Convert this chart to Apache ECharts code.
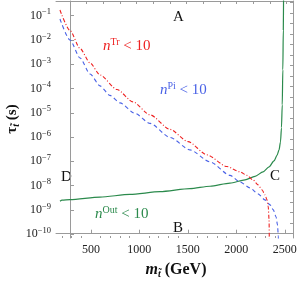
<!DOCTYPE html>
<html><head><meta charset="utf-8">
<script src="https://cdn.jsdelivr.net/npm/echarts@6/dist/echarts.min.js"></script>
<style>html,body{margin:0;padding:0;background:#fff}#c{width:300px;height:284px}</style>
</head><body><div id="c"></div>
<script>
// n^Tr < 10 (red, dash-dot)
const redMass = [181, 284, 388, 491, 594, 769, 934, 1110, 1316, 1502, 1698, 1904, 2038, 2110, 2172, 2224, 2265, 2296, 2317, 2330, 2338, 2342];
const redTau  = [0.171, 0.0246, 4.46e-3, 1.13e-3, 3.61e-4, 9.14e-5, 2.8e-5, 8.2e-6, 2.07e-6, 6.5e-7, 1.84e-7, 6.07e-8, 3.67e-8, 2.64e-8, 1.72e-8, 1.07e-8, 6.7e-9, 4.15e-9, 2.58e-9, 1.33e-9, 3.9e-10, 1e-11];
// n^Pi < 10 (blue, dashed)
const blueMass = [181, 284, 388, 491, 594, 697, 800, 955, 1110, 1316, 1522, 1729, 1935, 2038, 2141, 2224, 2296, 2348, 2382, 2410, 2425, 2434, 2436];
const blueTau  = [0.0731, 9.98e-3, 1.81e-3, 3.98e-4, 1.28e-4, 5.19e-5, 2.55e-5, 9.4e-6, 3.65e-6, 9.67e-7, 2.96e-7, 9.5e-8, 2.64e-8, 1.42e-8, 8.05e-9, 4.56e-9, 2.58e-9, 1.61e-9, 1.0e-9, 5.15e-10, 2.41e-10, 7.8e-11, 1e-11];
// n^Out < 10 (green, solid)
const greenMass = [181, 202, 284, 594, 903, 1213, 1522, 1729, 1935, 2090, 2193, 2276, 2338, 2389, 2420, 2441, 2456, 2466, 2474, 2480, 2485, 2488];
const greenTau  = [2.24e-9, 2.51e-9, 2.64e-9, 3.34e-9, 4.32e-9, 5.62e-9, 7.47e-9, 9.37e-9, 1.26e-8, 1.72e-8, 2.4e-8, 3.67e-8, 5.9e-8, 1.04e-7, 1.75e-7, 2.96e-7, 6.3e-7, 2.41e-6, 2.1e-5, 5.8e-4, 0.0258, 1.15];

const xTickLabels = [500, 1000, 1500, 2000, 2500];
const xMinorTicks = [200,300,400,600,700,800,900,1100,1200,1300,1400,1600,1700,1800,1900,2100,2200,2300,2400];
const yTickLabels = [1e-10, 1e-9, 1e-8, 1e-7, 1e-6, 1e-5, 1e-4, 1e-3, 1e-2, 1e-1];
const topTicks = [0,1,2,3,4,5,6,7,8,9,10,11,12,13];
const rightTicks = [0,1,2,3,4,5,6,7,8,9,10,11,12,13,14,15,16,17,18,19,20,21,22];

const SERIF = 'Liberation Serif';
const FRAME = '#9a9a9a';
const gridRect = {left: 56, right: 7, top: 1, bottom: 46};

const zip = (a, b) => a.map((v, i) => [v, b[i]]);

const chart = echarts.init(document.getElementById('c'), null, {renderer: 'canvas'});
const option = {
  animation: false,
  backgroundColor: '#fff',
  grid: [Object.assign({}, gridRect), Object.assign({}, gridRect)],
  xAxis: [
    {
      gridIndex: 0, type: 'value', position: 'bottom', min: 140, max: 2585,
      axisLine: {show: true, lineStyle: {color: FRAME, width: 1}},
      axisTick: {show: true, inside: true, length: 4, customValues: xTickLabels, lineStyle: {color: FRAME}},
      axisLabel: {customValues: xTickLabels, formatter: v => String(v), fontFamily: SERIF, fontSize: 12, color: '#222', margin: 6},
      splitLine: {show: false}
    },
    {
      gridIndex: 0, type: 'value', position: 'top', min: -0.84, max: 13.38,
      axisLine: {show: true, lineStyle: {color: FRAME, width: 1}},
      axisTick: {show: true, inside: true, length: 3, customValues: topTicks, lineStyle: {color: FRAME}},
      axisLabel: {show: false}, splitLine: {show: false}
    },
    {
      gridIndex: 1, type: 'value', position: 'bottom', min: 140, max: 2585,
      axisLine: {show: false},
      axisTick: {show: true, inside: true, length: 2, customValues: xMinorTicks, lineStyle: {color: FRAME}},
      axisLabel: {show: false}, splitLine: {show: false}
    }
  ],
  yAxis: [
    {
      gridIndex: 0, type: 'log', position: 'left', logBase: 10,
      min: Math.pow(10, -10.16), max: Math.pow(10, -0.395),
      axisLine: {show: true, lineStyle: {color: FRAME, width: 1}},
      axisTick: {show: true, inside: true, length: 4, customValues: yTickLabels, lineStyle: {color: FRAME}},
      axisLabel: {
        customValues: yTickLabels, margin: 5,
        formatter: v => '{b|10}{s|\u2212' + Math.abs(Math.round(Math.log10(v))) + '}',
        rich: {
          b: {fontFamily: SERIF, fontSize: 12, color: '#222', lineHeight: 16},
          s: {fontFamily: SERIF, fontSize: 8.5, color: '#222', lineHeight: 10, verticalAlign: 'top'}
        }
      },
      splitLine: {show: false}, minorTick: {show: false}
    },
    {
      gridIndex: 0, type: 'value', position: 'right', min: -0.41, max: 22.16,
      axisLine: {show: true, lineStyle: {color: FRAME, width: 1}},
      axisTick: {show: true, inside: true, length: 3, customValues: rightTicks, lineStyle: {color: FRAME}},
      axisLabel: {show: false}, splitLine: {show: false}
    },
    {
      gridIndex: 1, type: 'log', position: 'left', min: Math.pow(10, -10.16), max: Math.pow(10, -0.395),
      axisLine: {show: false}, axisTick: {show: false}, axisLabel: {show: false}, splitLine: {show: false}
    }
  ],
  series: [
    {
      type: 'line', xAxisIndex: 0, yAxisIndex: 0, data: zip(greenMass, greenTau), smooth: 0.25, smoothMonotone: 'x',
      showSymbol: false, clip: true, lineStyle: {color: '#2b8a4c', width: 1.2}
    },
    {
      type: 'line', xAxisIndex: 0, yAxisIndex: 0, data: zip(blueMass, blueTau), smooth: 0.25, smoothMonotone: 'x',
      showSymbol: false, clip: true, lineStyle: {color: '#4a62e6', width: 1.1, type: [4, 3]}
    },
    {
      type: 'line', xAxisIndex: 0, yAxisIndex: 0, data: zip(redMass, redTau), smooth: 0.25, smoothMonotone: 'x',
      showSymbol: false, clip: true, lineStyle: {color: '#ee2222', width: 1.1, type: [4, 2, 1, 2]}
    }
  ],
  graphic: [
    {type: 'text', left: 173, top: 10, style: {text: 'A', font: '15px "Liberation Serif"', fill: '#111'}},
    {type: 'text', left: 173, top: 221, style: {text: 'B', font: '15px "Liberation Serif"', fill: '#111'}},
    {type: 'text', left: 270, top: 169, style: {text: 'C', font: '15px "Liberation Serif"', fill: '#111'}},
    {type: 'text', left: 61, top: 170, style: {text: 'D', font: '15px "Liberation Serif"', fill: '#111'}},
    {type: 'text', x: 103, y: 46, style: {
      text: '{i|n}{s|Tr}{r| < 10}', verticalAlign: 'middle', fill: '#ee2222',
      rich: {i: {fontFamily: SERIF, fontStyle: 'italic', fontSize: 15, lineHeight: 18, fill: '#ee2222'},
             s: {fontFamily: SERIF, fontSize: 10, lineHeight: 11, verticalAlign: 'top', fill: '#ee2222'},
             r: {fontFamily: SERIF, fontSize: 15, lineHeight: 18, fill: '#ee2222'}}}},
    {type: 'text', x: 160, y: 90, style: {
      text: '{i|n}{s|Pi}{r| < 10}', verticalAlign: 'middle', fill: '#4a62e6',
      rich: {i: {fontFamily: SERIF, fontStyle: 'italic', fontSize: 15, lineHeight: 18, fill: '#4a62e6'},
             s: {fontFamily: SERIF, fontSize: 10, lineHeight: 11, verticalAlign: 'top', fill: '#4a62e6'},
             r: {fontFamily: SERIF, fontSize: 15, lineHeight: 18, fill: '#4a62e6'}}}},
    {type: 'text', x: 95, y: 214, style: {
      text: '{i|n}{s|Out}{r| < 10}', verticalAlign: 'middle', fill: '#2b8a4c',
      rich: {i: {fontFamily: SERIF, fontStyle: 'italic', fontSize: 15, lineHeight: 18, fill: '#2b8a4c'},
             s: {fontFamily: SERIF, fontSize: 10, lineHeight: 11, verticalAlign: 'top', fill: '#2b8a4c'},
             r: {fontFamily: SERIF, fontSize: 15, lineHeight: 18, fill: '#2b8a4c'}}}},
    {type: 'text', x: 12, y: 119, rotation: Math.PI / 2, style: {
      text: '{t|\u03c4}{sub|t\u0303}{t| (s)}', align: 'center', verticalAlign: 'middle', fill: '#111',
      rich: {t: {fontFamily: SERIF, fontWeight: 'bold', fontSize: 15, lineHeight: 18, fill: '#111'},
             sub: {fontFamily: SERIF, fontWeight: 'bold', fontStyle: 'italic', fontSize: 10, lineHeight: 10, verticalAlign: 'bottom', fill: '#111'}}}},
    {type: 'text', x: 176, y: 270, style: {
      text: '{m|m}{sub|t\u0303}{t| (GeV)}', align: 'center', verticalAlign: 'middle', fill: '#111',
      rich: {m: {fontFamily: SERIF, fontWeight: 'bold', fontStyle: 'italic', fontSize: 16, lineHeight: 18, fill: '#111'},
             sub: {fontFamily: SERIF, fontWeight: 'bold', fontStyle: 'italic', fontSize: 10, lineHeight: 10, verticalAlign: 'bottom', fill: '#111'},
             t: {fontFamily: SERIF, fontWeight: 'bold', fontSize: 16, lineHeight: 18, fill: '#111'}}}}
  ]
};
chart.setOption(option);
</script>
</body></html>
